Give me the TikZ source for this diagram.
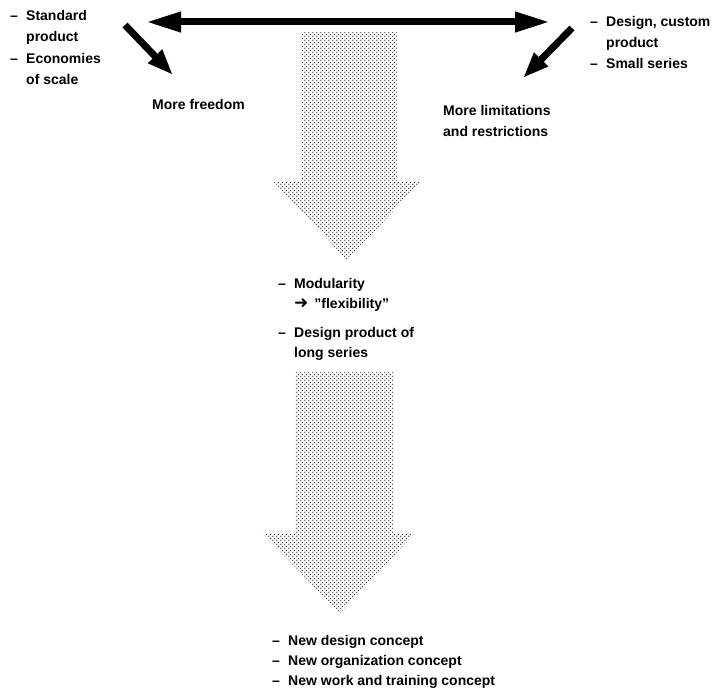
\documentclass[tikz,border=0pt]{standalone}
\usepackage{fontspec}
\setmainfont{Liberation Sans}
\newfontfamily\arrfont{DejaVu Sans}
\usetikzlibrary{arrows.meta,patterns.meta}
\newcommand{\itm}{\makebox[16pt][l]{--}}
\newcommand{\ind}{\hspace*{16pt}}
\tikzdeclarepattern{name=screen,type=uncolored,
  bounding box={(0pt,0pt) and (4pt,4pt)},tile size={(4pt,4pt)},
  code={\fill (1pt,1pt) circle (0.85pt); \fill (3pt,3pt) circle (0.85pt);}}

\begin{document}
\begin{tikzpicture}[x=1pt,y=-1pt,
    txt/.style={anchor=north west,align=left,inner sep=0pt,
      font=\fontsize{14}{21.5}\selectfont\bfseries},
    bar/.style={line width=7pt,{Triangle[length=35pt,width=19pt]}-{Triangle[length=35pt,width=19pt]}},
    slant/.style={line width=7pt,-{Triangle[length=26pt,width=18pt]}},
    block/.style={pattern=screen,pattern color=black!85}]
\useasboundingbox (0,0) rectangle (716,693);
\node[txt] (std) at (10,10) {\itm Standard\\ \ind product\\ \itm Economies\\ \ind of scale};
\node[txt,font=\fontsize{14}{21}\selectfont\bfseries] (cust) at (590,16) {\itm Design, custom\\ \ind product\\ \itm Small series};
\node[txt] (free) at (152,99) {More freedom};
\node[txt] (lim) at (443,105) {More limitations\\ and restrictions};
\node[txt,font=\fontsize{14}{20.5}\selectfont\bfseries] (modu) at (278,278)
  {\itm Modularity\\ \ind{\arrfont\mdseries\fontsize{17}{17}\selectfont ➜}\hspace{6pt}\char34 flexibility\char34\\[8pt]
   \itm Design product of\\ \ind long series};
\node[txt,font=\fontsize{14}{20}\selectfont\bfseries] (newc) at (272,635)
  {\itm New design concept\\ \itm New organization concept\\ \itm New work and training concept};
\coordinate (hl) at (146,22);
\coordinate (hr) at (550,22);
\coordinate (fl) at (125,25);
\coordinate (ft) at (173,75);
\coordinate (rl) at (572,28);
\coordinate (rt) at (523,78);
\draw[bar] (hl) -- (hr);
\draw[slant] (fl) -- (ft);
\draw[slant] (rl) -- (rt);
\fill[block] (301,32) -- (397,32) -- (397,182) -- (421,182) -- (347,260)
  -- (274,182) -- (301,182) -- cycle;
\fill[block] (295,372) -- (393,372) -- (393,533) -- (415,533) -- (340,613)
  -- (262,533) -- (295,533) -- cycle;
\end{tikzpicture}
\end{document}
